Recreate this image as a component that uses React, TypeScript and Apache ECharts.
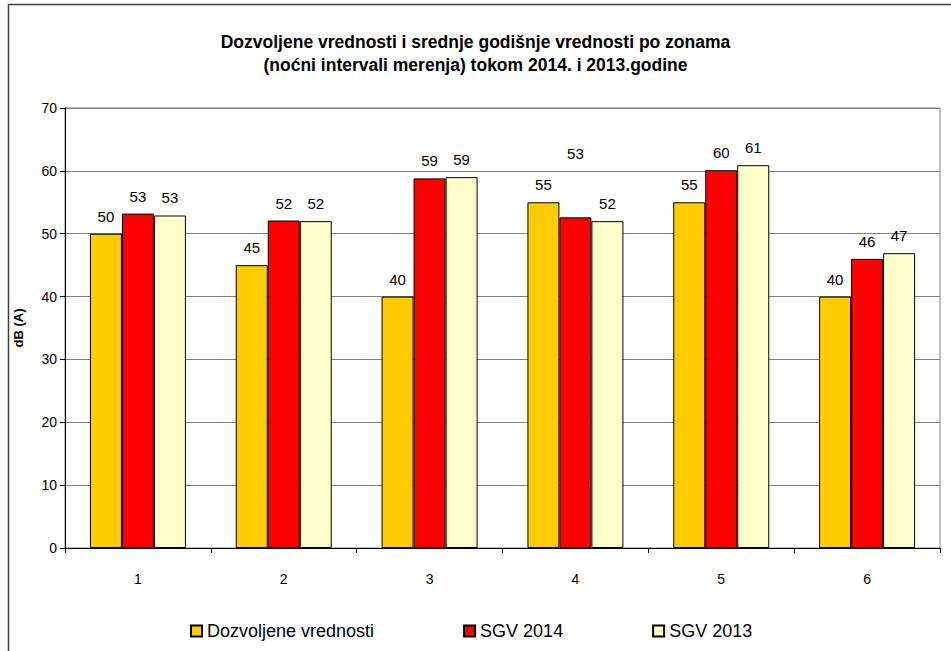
import React, { useEffect, useRef } from "react";
import * as echarts from "echarts";

const categories = ["1", "2", "3", "4", "5", "6"];
const dozvoljene = [50, 45, 40, 55, 55, 40];
const sgv2014 = [53.2, 52.1, 58.8, 52.6, 60.1, 46.0];
const sgv2013 = [52.9, 52.0, 59.0, 52.0, 60.9, 46.9];
const seriesNames = ["Dozvoljene vrednosti", "SGV 2014", "SGV 2013"];
const colors = ["#FFCC00", "#FF0000", "#FFFFCC"];
const titleLines = [
  "Dozvoljene vrednosti i srednje godišnje vrednosti po zonama",
  "(noćni intervali merenja) tokom 2014. i 2013.godine",
];

const FONT = 'Arial, "Liberation Sans", sans-serif';

export default function App() {
  const ref = useRef<HTMLDivElement>(null);
  useEffect(() => {
    if (!ref.current) return;
    const chart = echarts.init(ref.current, null, { renderer: "svg" });
    const label = {
      show: true,
      position: "top" as const,
      distance: 10,
      fontSize: 15,
      color: "#000",
      fontFamily: FONT,
      formatter: (p: any) => String(Math.round(p.value)),
    };
    const mk = (name: string, data: any[], color: string) => ({
      name,
      type: "bar",
      data,
      barWidth: 32,
      barGap: "0%",
      itemStyle: { color, borderColor: "#000", borderWidth: 1 },
      label,
    });
    const sgv2014Data = sgv2014.map((v, i) =>
      i === 3 ? { value: v, label: { offset: [0, -46] } } : v
    );
    chart.setOption({
      animation: false,
      backgroundColor: "#fff",
      textStyle: { fontFamily: FONT },
      title: {
        text: titleLines.join("\n"),
        left: "center",
        top: 25,
        textStyle: {
          fontSize: 17.5,
          fontWeight: "bold",
          lineHeight: 23,
          color: "#000",
          fontFamily: FONT,
        },
      },
      graphic: [
        {
          type: "rect",
          shape: { x: 8.5, y: 4.5, width: 1000, height: 700 },
          style: { fill: "none", stroke: "#404040", lineWidth: 1.5 },
          silent: true,
        },
      ],
      legend: {
        data: seriesNames,
        left: 185,
        top: 617,
        itemWidth: 11,
        itemHeight: 11,
        itemGap: 89,
        icon: "rect",
        textStyle: { fontSize: 18, color: "#000", fontFamily: FONT },
      },
      grid: {
        left: 65,
        right: 11,
        top: 108,
        bottom: 103,
        show: true,
        borderColor: "#808080",
        borderWidth: 1,
      },
      xAxis: {
        type: "category",
        data: categories,
        axisLine: { lineStyle: { color: "#000" } },
        axisTick: { show: true, length: 5, lineStyle: { color: "#000" } },
        axisLabel: { fontSize: 14, color: "#000", margin: 24, fontFamily: FONT },
      },
      yAxis: {
        type: "value",
        min: 0,
        max: 70,
        interval: 10,
        name: "dB (A)",
        nameLocation: "middle",
        nameGap: 40,
        nameRotate: 90,
        nameTextStyle: { fontSize: 13, fontWeight: "bold", color: "#000", fontFamily: FONT },
        axisLine: { show: true, lineStyle: { color: "#000" } },
        axisTick: { show: true, length: 5, lineStyle: { color: "#000" } },
        axisLabel: { fontSize: 14, color: "#000", margin: 8, fontFamily: FONT },
        splitLine: { show: true, lineStyle: { color: "#808080", width: 1 } },
      },
      series: [
        mk(seriesNames[0], dozvoljene, colors[0]),
        mk(seriesNames[1], sgv2014Data, colors[1]),
        mk(seriesNames[2], sgv2013, colors[2]),
      ],
    });
    return () => chart.dispose();
  }, []);
  return (
    <div
      ref={ref}
      style={{ position: "fixed", left: 0, top: 0, width: 951, height: 651 }}
    />
  );
}
